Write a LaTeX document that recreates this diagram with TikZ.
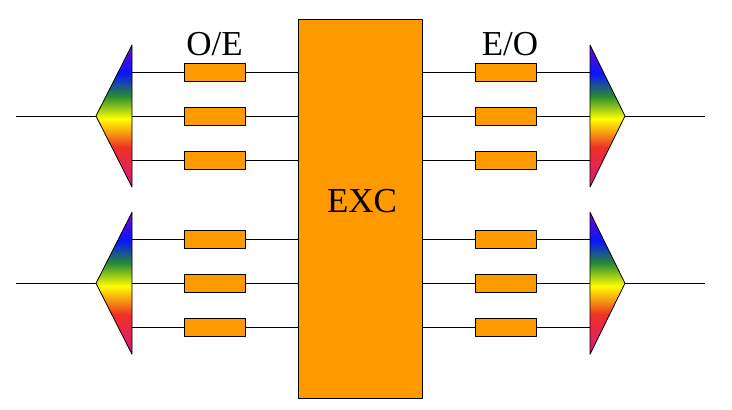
\documentclass[tikz,border=0pt]{standalone}
\usepackage{fontspec}
\setmainfont{Liberation Serif}
\definecolor{excorange}{RGB}{255,153,0}
\definecolor{prismpink}{RGB}{222,20,130}
\definecolor{prismred}{RGB}{238,50,36}
\definecolor{prismyellow}{RGB}{255,255,0}
\definecolor{prismgreen}{RGB}{40,140,50}
\definecolor{prismblue}{RGB}{10,20,250}
\definecolor{prismviolet}{RGB}{110,10,210}
\pgfdeclareverticalshading{rainbowprism}{100bp}{%
  color(0bp)=(prismpink);
  color(25bp)=(prismpink);
  color(39bp)=(prismred);
  color(49bp)=(prismyellow);
  color(57bp)=(prismgreen);
  color(65bp)=(prismblue);
  color(75bp)=(prismviolet);
  color(100bp)=(prismviolet)}
\tikzset{
  linkbox/.style={draw,fill=excorange,minimum width=61pt,minimum height=18pt,inner sep=0pt}
}
\begin{document}
\begin{tikzpicture}[x=1pt,y=-1pt,line width=.8pt,line join=round,
  font=\fontsize{35}{40}\selectfont]
  \useasboundingbox (0,0) rectangle (732,410);
  \node[draw,fill=excorange,minimum width=124pt,minimum height=379pt,inner sep=0pt] (exc) at (360,208.5) {};
  \node (exclabel) at (362,201) {EXC};
  \node (oelabel) at (214.5,44) {O/E};
  \node (eolabel) at (510,44) {E/O};
  \foreach \g/\yc in {1/116,2/283.3}{
    % prisms
    \shade[shading=rainbowprism] (96,\yc) -- (132,\yc-71) -- (132,\yc+71) -- cycle;
    \draw (96,\yc) -- (132,\yc-71) -- (132,\yc+71) -- cycle;
    \shade[shading=rainbowprism] (625,\yc) -- (590,\yc-71) -- (590,\yc+71) -- cycle;
    \draw (625,\yc) -- (590,\yc-71) -- (590,\yc+71) -- cycle;
    \coordinate (tipl\g) at (96,\yc);
    \coordinate (tipr\g) at (625,\yc);
    \coordinate (endl\g) at (16,\yc);
    \coordinate (endr\g) at (705,\yc);
    \draw (endl\g) -- (tipl\g);
    \draw (tipr\g) -- (endr\g);
    \foreach \k/\dy in {a/-44,b/0,c/44}{
      \node[linkbox] (oe\g\k) at (214.5,\yc+\dy) {};
      \node[linkbox] (eo\g\k) at (505.5,\yc+\dy) {};
      \coordinate (pl\g\k) at (132,\yc+\dy);
      \coordinate (pr\g\k) at (590,\yc+\dy);
      \draw (pl\g\k) -- (oe\g\k);
      \draw (oe\g\k) -- (oe\g\k -| exc.west);
      \draw (eo\g\k -| exc.east) -- (eo\g\k);
      \draw (eo\g\k) -- (pr\g\k);
    }
  }
\end{tikzpicture}
\end{document}
